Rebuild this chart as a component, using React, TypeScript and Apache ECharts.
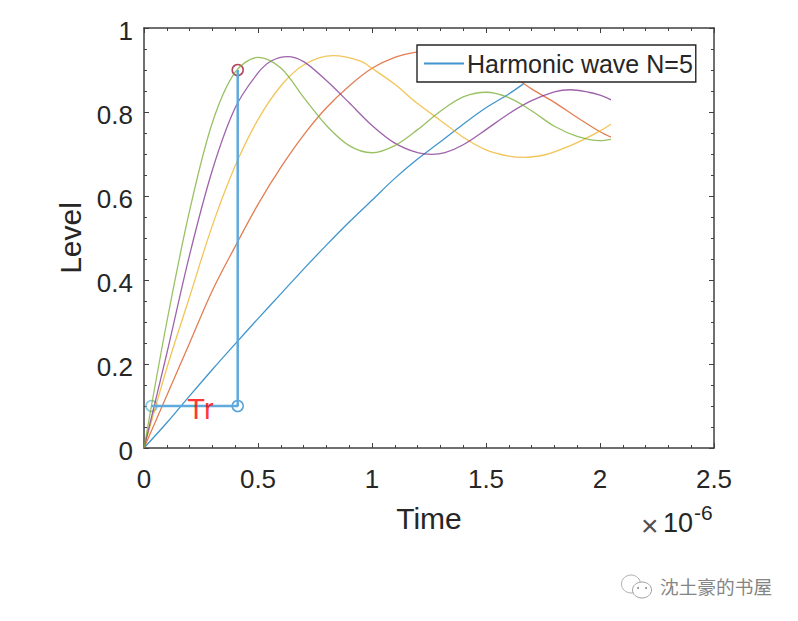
import React, { useEffect, useRef } from "react";
import * as echarts from "echarts";

const legendName = "Harmonic wave N=5";
const xTicks = [0, 0.5, 1, 1.5, 2, 2.5];
const yTicks = [0, 0.2, 0.4, 0.6, 0.8, 1];

const blue = [[0,0],[0.1,0.06],[0.2,0.124],[0.3,0.187],[0.4,0.248],[0.5,0.308],[0.6,0.367],[0.7,0.426],[0.8,0.483],[0.9,0.538],[1.0,0.59],[1.1,0.642],[1.2,0.688],[1.3,0.729],[1.4,0.771],[1.5,0.81],[1.6,0.843],[1.664,0.867]];
const orange = [[0,0],[0.1,0.125],[0.2,0.25],[0.3,0.375],[0.4,0.48],[0.5,0.58],[0.6,0.668],[0.7,0.745],[0.8,0.81],[0.9,0.862],[1.0,0.904],[1.1,0.93],[1.2,0.943],[1.3,0.948],[1.4,0.94],[1.5,0.925],[1.6,0.893],[1.7,0.855],[1.8,0.823],[1.9,0.787],[2.0,0.753],[2.048,0.74]];
const yellow = [[0,0],[0.1,0.19],[0.2,0.36],[0.3,0.53],[0.4,0.672],[0.5,0.782],[0.6,0.862],[0.7,0.912],[0.83,0.934],[0.95,0.921],[1.0,0.904],[1.1,0.866],[1.2,0.82],[1.3,0.78],[1.4,0.74],[1.5,0.71],[1.6,0.695],[1.67,0.692],[1.75,0.697],[1.8,0.705],[1.9,0.727],[2.0,0.755],[2.048,0.771]];
const purple = [[0,0],[0.1,0.225],[0.2,0.46],[0.3,0.662],[0.4,0.81],[0.5,0.893],[0.56,0.922],[0.63,0.932],[0.7,0.92],[0.8,0.875],[0.9,0.822],[1.0,0.768],[1.1,0.726],[1.2,0.703],[1.26,0.699],[1.32,0.703],[1.4,0.722],[1.5,0.758],[1.6,0.796],[1.7,0.827],[1.8,0.848],[1.87,0.853],[1.95,0.847],[2.0,0.84],[2.048,0.829]];
const green = [[0,0],[0.1,0.3],[0.2,0.565],[0.3,0.775],[0.4,0.895],[0.5,0.93],[0.6,0.905],[0.7,0.835],[0.8,0.768],[0.9,0.72],[1.0,0.703],[1.1,0.72],[1.2,0.758],[1.3,0.802],[1.4,0.836],[1.5,0.847],[1.6,0.834],[1.7,0.803],[1.8,0.766],[1.9,0.742],[2.0,0.732],[2.048,0.735]];
const riseLine = [[0.033,0.1],[0.411,0.1],[0.411,0.9]];
const lowLeftMark = [[0.033,0.1]];
const lowRightMark = [[0.411,0.1]];
const highMark = [[0.411,0.9]];
const trLabel = [[0.305,0.093]];

const ink = "#262626";
const font = "Liberation Sans";

const curve = (name: string, data: number[][], color: string) => ({
  name, type: "line", data, smooth: 0.33, showSymbol: false, symbol: "none",
  lineStyle: { color, width: 1.3, opacity: 0.75 }, itemStyle: { color },
});

const ring = (name: string, data: number[][], color: string) => ({
  name, type: "scatter", data, symbol: "circle", symbolSize: 11,
  itemStyle: { color: "rgba(0,0,0,0)", borderColor: color, borderWidth: 1.5 },
});

const tickStyle = { color: "#404040", width: 1 };
const valueAxis = (extra: any, split: number) => ({
  type: "value", axisLine: { show: true, lineStyle: { color: "#404040", width: 1.5 }, onZero: false },
  axisTick: { show: true, inside: true, length: 5, lineStyle: tickStyle },
  minorTick: { show: true, splitNumber: split, length: 3, lineStyle: tickStyle },
  splitLine: { show: false }, minorSplitLine: { show: false }, ...extra,
});

export default function App() {
  const ref = useRef<HTMLDivElement>(null);
  useEffect(() => {
    document.body.style.margin = "0";
    const chart = echarts.init(ref.current!, undefined, { renderer: "svg" });
    const xBase = { min: xTicks[0], max: xTicks[xTicks.length - 1], interval: 0.5 };
    const yBase = { min: yTicks[0], max: yTicks[yTicks.length - 1], interval: 0.2 };
    const tickLabel = { fontFamily: font, fontSize: 26, color: ink, formatter: (v: number) => String(v) };
    chart.setOption({
      animation: false,
      backgroundColor: "#fff",
      grid: { left: 144, top: 28, width: 570, height: 420, containLabel: false },
      legend: {
        data: [{ name: legendName }], left: 417, top: 45, orient: "horizontal",
        itemWidth: 40, itemHeight: 2, itemGap: 0, padding: [6, 3, 6, 6],
        backgroundColor: "#fff", borderColor: "#262626", borderWidth: 1.4, borderRadius: 0,
        itemStyle: { opacity: 0 },
        textStyle: { fontFamily: font, fontSize: 25, color: ink, padding: [0, 0, 0, -2] },
      },
      xAxis: [
        valueAxis({ ...xBase, position: "bottom",
          name: "Time", nameLocation: "middle", nameGap: 55, nameTextStyle: { fontFamily: font, fontSize: 30, color: ink },
          axisLabel: { ...tickLabel, margin: 18 } }, 5),
        valueAxis({ ...xBase, position: "top", axisLabel: { show: false } }, 5),
      ],
      yAxis: [
        valueAxis({ ...yBase, position: "left",
          name: "Level", nameLocation: "middle", nameGap: 59, nameTextStyle: { fontFamily: font, fontSize: 30, color: ink },
          axisLabel: { ...tickLabel, margin: 11, verticalAlign: "top", lineHeight: 26, padding: [-10, 0, 0, 0] } }, 4),
        valueAxis({ ...yBase, position: "right", axisLabel: { show: false } }, 4),
      ],
      series: [
        curve(legendName, blue, "#0072BD"),
        curve("Curve 2", orange, "#D95319"),
        curve("Curve 3", yellow, "#EDB120"),
        curve("Curve 4", purple, "#7E2F8E"),
        curve("Curve 5", green, "#77AC30"),
        { name: "Rise", type: "line", data: riseLine, symbol: "none", lineStyle: { color: "#5FAADD", width: 2.5 } },
        ring("Low left mark", lowLeftMark, "#6FBAE0"),
        ring("Low right mark", lowRightMark, "#2F8FD0"),
        ring("High mark", highMark, "#A2142F"),
        { name: "Tr", type: "scatter", data: trLabel, symbolSize: 0, silent: true, z: 10,
          label: { show: true, position: "left", distance: 0, formatter: "Tr", color: "#FF0000", fontFamily: font, fontSize: 29 } },
      ],
      graphic: [
        { type: "text", left: 641, top: 510, style: { text: "×", font: `30px ${font}`, fill: "#505050" } },
        { type: "text", left: 663, top: 509, style: { text: "10", font: `27px ${font}`, fill: ink } },
        { type: "text", left: 694, top: 502, style: { text: "-6", font: `21px ${font}`, fill: ink } },
        { type: "text", left: 660, top: 576, style: { text: "沈土豪的书屋", font: '18.7px "Noto Sans CJK SC"', fill: "#858585" } },
        { type: "ellipse", shape: { cx: 631, cy: 584, rx: 9.5, ry: 9 }, style: { fill: "#fff", stroke: "#b0b0b0", lineWidth: 1 } },
        { type: "ellipse", shape: { cx: 642, cy: 590, rx: 9.5, ry: 8 }, style: { fill: "#fff", stroke: "#a0a0a0", lineWidth: 1 } },
        { type: "circle", shape: { cx: 638, cy: 588, r: 1 }, style: { fill: "#909090" } },
        { type: "circle", shape: { cx: 646, cy: 588, r: 1 }, style: { fill: "#909090" } },
      ],
    });
    return () => chart.dispose();
  }, []);
  return <div ref={ref} style={{ width: 798, height: 621 }} />;
}
